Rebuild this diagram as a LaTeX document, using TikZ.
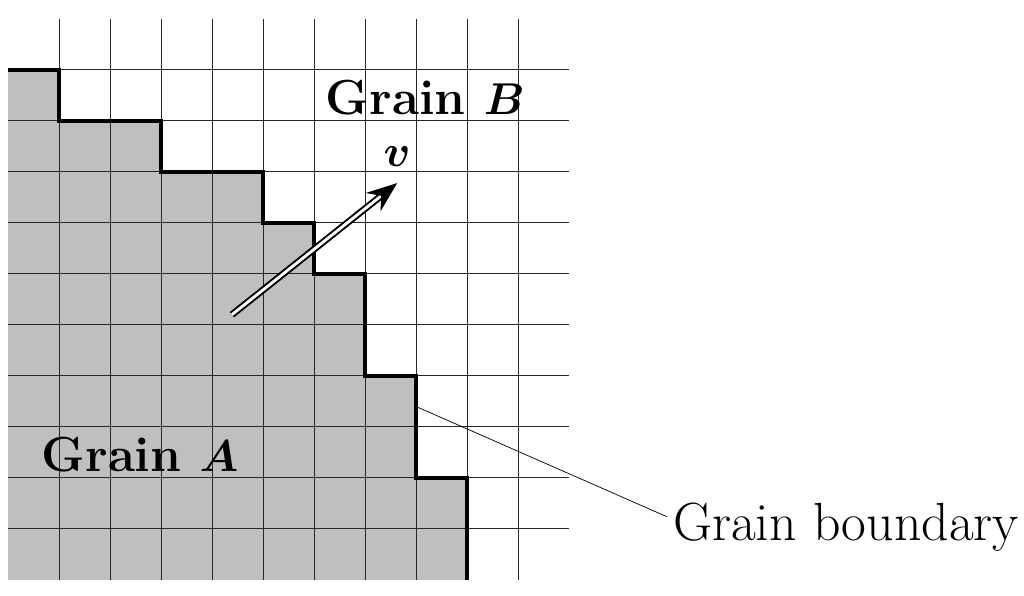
\documentclass[tikz,border=0pt]{standalone}
\usepackage{amsmath}
\usepackage{bm}
\usepackage{tikz}
\usetikzlibrary{arrows.meta,positioning}

\begin{document}
\begin{tikzpicture}[
  gridline/.style={line width=0.5pt, black!85},
  stairs/.style={line width=2.5pt, line join=miter},
  grainlabel/.style={font=\fontsize{27.5}{32}\selectfont\bfseries},
  plainlabel/.style={font=\fontsize{30}{36}\selectfont},
  leader/.style={line width=0.4pt},
  velarrow/.style={double, double distance=1.6pt, line width=1.1pt,
                   -{Stealth[length=6mm, width=4.6mm, inset=2mm]}}
]
\useasboundingbox (-0.157,-0.314) rectangle (19.92,11.37);

\fill[black!25] (0,0) -- (0,10) -- (1,10) -- (1,9) -- (3,9) -- (3,8) -- (5,8) -- (5,7)
  -- (6,7) -- (6,6) -- (7,6) -- (7,4) -- (8,4) -- (8,2) -- (9,2) -- (9,0) -- cycle;

\foreach \i in {1,...,10} {
  \draw[gridline] (\i,0) -- (\i,11);
  \draw[gridline] (0,\i) -- (11,\i);
}

\draw[stairs] (0,10) -- (1,10) -- (1,9) -- (3,9) -- (3,8) -- (5,8) -- (5,7)
  -- (6,7) -- (6,6) -- (7,6) -- (7,4) -- (8,4) -- (8,2) -- (9,2) -- (9,0);

\node[grainlabel] (grainB) at (8.18,9.45) {Grain~$\bm{B}$};
\node[grainlabel] (grainA) at (2.59,2.45) {Grain~$\bm{A}$};

\coordinate (vtail) at (4.39,5.2);
\coordinate (vhead) at (7.63,7.78);
\draw[velarrow] (vtail) -- (vhead);
\node[grainlabel, above=0.2cm of vhead] (vlabel) {$\bm{v}$};

\coordinate (bnd) at (8,3.4);
\node[plainlabel] (gb) at (16.43,1.04) {Grain boundary};
\draw[leader] (bnd) -- ([yshift=0.2cm]gb.west);
\end{tikzpicture}
\end{document}
